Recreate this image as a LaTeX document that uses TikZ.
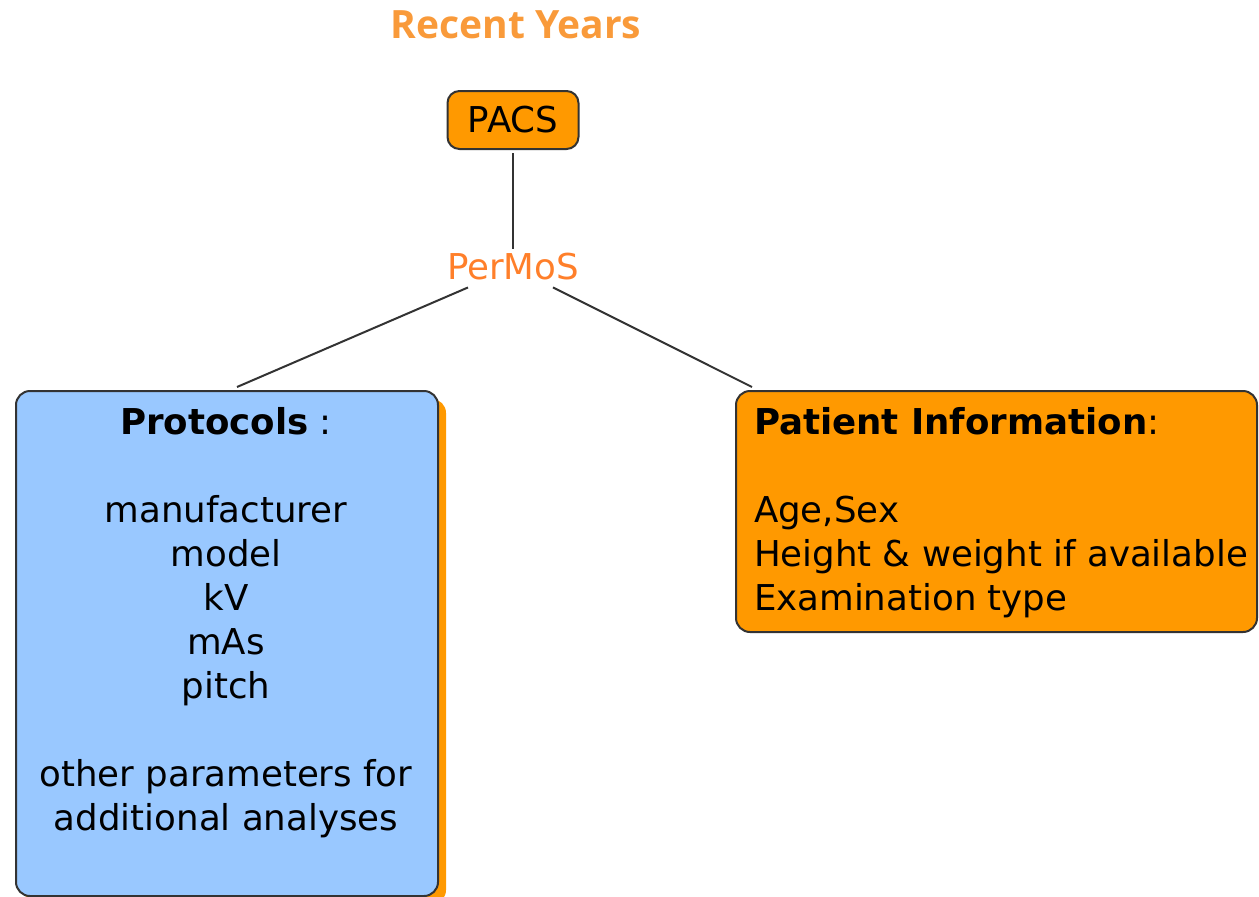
\documentclass[tikz,border=0pt]{standalone}
\usepackage{fontspec}
\setmainfont{DejaVu Sans}
\newfontfamily\headfont{Open Sans}
\usetikzlibrary{shadows}

\definecolor{boxorange}{HTML}{FF9900}
\definecolor{boxblue}{HTML}{99C8FF}
\definecolor{headorange}{HTML}{F99A3A}
\definecolor{midorange}{HTML}{FF7F2A}
\definecolor{edge}{HTML}{333333}

\begin{document}
\begin{tikzpicture}[x=1pt, y=-1pt,
  every node/.style={inner sep=0pt, outer sep=0pt},
  txt/.style={font=\fontsize{35.6}{44}\selectfont},
  box/.style={draw=edge, line width=2pt, rounded corners=14pt},
  link/.style={draw=edge, line width=2pt}]
\useasboundingbox (0,0) rectangle (1259,897);
\node[font=\headfont\bfseries\fontsize{39}{44}\selectfont, text=headorange] (title) at (516,25) {Recent Years};
\node[box, fill=boxorange, rounded corners=12pt, minimum width=131pt, minimum height=58pt, txt] (pacs) at (513,120) {PACS};
\node[txt, text=midorange] (permos) at (513,267) {PerMoS};
% the two data boxes
\node[box, fill=boxblue, minimum width=422pt, minimum height=505pt,
  drop shadow={shadow xshift=8pt, shadow yshift=-8pt, fill=boxorange, opacity=1}] (protocols) at (227,643.5) {};
\node[box, fill=boxorange, minimum width=521pt, minimum height=241pt] (patient) at (996.5,511.5) {};
\node[txt, align=center] (protolist) at (226,623) {\textbf{Protocols} :\\ \\ manufacturer\\ model\\ kV\\ mAs\\ pitch\\ \\ other parameters for\\ additional analyses};
\node[txt, align=left, anchor=west] (patientlist) at (754,513) {\textbf{Patient Information}:\\ \\ Age,Sex\\ Height \& weight if available\\ Examination type};
% connectors
\draw[link, shorten <=4pt, shorten >=5pt] (pacs.south) -- (permos.north);
\draw[link] ([xshift=-45pt,yshift=-7pt]permos.south) -- ([xshift=10pt,yshift=4pt]protocols.north);
\draw[link] ([xshift=40pt,yshift=-7pt]permos.south) -- ([xshift=16pt,yshift=4pt]patient.north west);
\end{tikzpicture}
\end{document}
